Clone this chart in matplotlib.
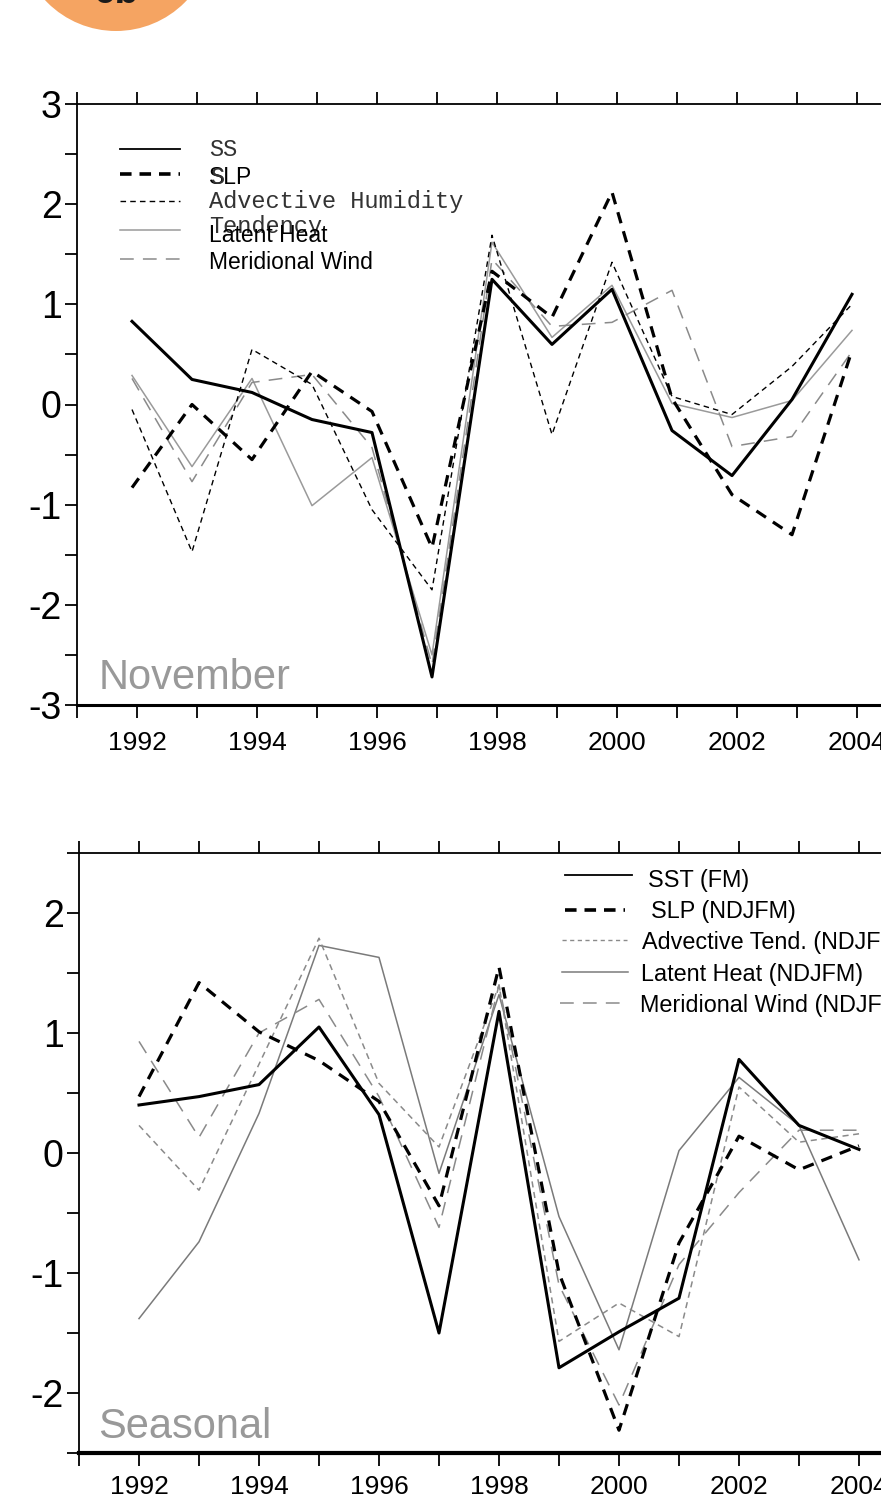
import matplotlib
matplotlib.use("Agg")
import matplotlib.pyplot as plt
from matplotlib.lines import Line2D
from matplotlib.patches import Circle
from matplotlib.ticker import MultipleLocator
import numpy as np

W, H = 881, 1498

# ---------------- data ----------------
years = list(range(1992, 2005))

# November panel (values plotted at November of previous year)
nov_ss = [0.83, 0.25, 0.12, -0.15, -0.28, -2.72, 1.25, 0.60, 1.15, -0.26, -0.71, 0.05, 1.10]
nov_slp = [-0.83, 0.00, -0.55, 0.33, -0.07, -1.43, 1.33, 0.87, 2.12, 0.06, -0.90, -1.30, 0.54]
nov_adv = [-0.05, -1.47, 0.55, 0.20, -1.05, -1.85, 1.69, -0.30, 1.42, 0.08, -0.10, 0.38, 1.00]
nov_lh = [0.29, -0.62, 0.26, -1.01, -0.53, -2.50, 1.62, 0.67, 1.19, 0.01, -0.13, 0.04, 0.74]
nov_mw = [0.26, -0.77, 0.22, 0.30, -0.43, -2.60, 1.45, 0.78, 0.82, 1.14, -0.42, -0.32, 0.53]

# Seasonal panel
sea_sst = [0.40, 0.47, 0.57, 1.05, 0.32, -1.50, 1.18, -1.79, -1.49, -1.21, 0.78, 0.23, 0.03]
sea_slp = [0.47, 1.42, 1.01, 0.77, 0.43, -0.44, 1.55, -1.00, -2.31, -0.75, 0.14, -0.14, 0.06]
sea_adv = [0.23, -0.31, 0.74, 1.79, 0.58, 0.05, 1.40, -1.57, -1.25, -1.53, 0.55, 0.09, 0.16]
sea_lh = [-1.38, -0.74, 0.33, 1.73, 1.63, -0.17, 1.32, -0.53, -1.64, 0.02, 0.63, 0.23, -0.89]
sea_mw = [0.93, 0.13, 1.00, 1.28, 0.47, -0.62, 1.40, -1.10, -2.10, -0.93, -0.33, 0.19, 0.19]

nov_labels = ["SS", "SLP", "Advective Humidity", "Tendency", "Latent Heat", "Meridional Wind"]
sea_labels = ["SST (FM)", "SLP (NDJFM)", "Advective Tend. (NDJFM)",
              "Latent Heat (NDJFM)", "Meridional Wind (NDJFM)"]

SANS = "Liberation Sans"
MONO = "Liberation Mono"
plt.rcParams["font.family"] = [SANS, "DejaVu Sans"]
plt.rcParams["axes.unicode_minus"] = False

fig = plt.figure(figsize=(W / 100, H / 100), dpi=100)


def fx(px):
    return px / W


def fy(py):
    return 1 - py / H


# ---------------- badge ----------------
fig.patches.append(Circle((1.16, (H + 66) / 100), 0.97, transform=fig.dpi_scale_trans,
                          facecolor="#f5a462", edgecolor="none"))
fig.text(fx(116), fy(3), "6b", ha="center", va="baseline", fontsize=28,
         fontweight="bold", color="#1a1a1a")


def style_axes(ax, ylo, yhi, xpad):
    ax.set_ylim(ylo, yhi)
    ax.spines["right"].set_visible(False)
    for s in ("left", "top"):
        ax.spines[s].set_linewidth(1.3)
    ax.xaxis.set_major_locator(MultipleLocator(2))
    ax.xaxis.set_minor_locator(MultipleLocator(1))
    ax.yaxis.set_major_locator(MultipleLocator(1))
    ax.yaxis.set_minor_locator(MultipleLocator(0.5))
    ax.tick_params(axis="x", which="both", direction="out", top=True, bottom=True,
                   length=9, width=1.3, labelsize=19, pad=xpad)
    ax.tick_params(axis="y", which="both", direction="out", left=True, right=False,
                   length=9, width=1.3, labelsize=27, pad=2)
    ax.set_xticks([1992, 1994, 1996, 1998, 2000, 2002, 2004])
    ax.set_xticklabels(["1992", "1994", "1996", "1998", "2000", "2002", "2004"])


# ---------------- top panel ----------------
ax1 = fig.add_axes([fx(77), fy(705), (W - 77 + 60) / W, 601 / H])
x1 = np.array(years) - 1 + 11 / 12
ax1.set_xlim(1991, 1991 + (W - 77 + 60) / 60)
ax1.plot(x1, nov_lh, color="#9a9a9a", lw=1.1)
ax1.plot(x1, nov_mw, color="#8a8a8a", lw=1.1, dashes=(9, 6))
ax1.plot(x1, nov_adv, color="black", lw=1.0, dashes=(4, 3))
ax1.plot(x1, nov_slp, color="black", lw=2.3, dashes=(3.6, 2.6))
ax1.plot(x1, nov_ss, color="black", lw=2.2)
style_axes(ax1, -3, 3, 10)
ax1.spines["bottom"].set_linewidth(2.2)
ax1.text(0.025, 0.027, "November", transform=ax1.transAxes, fontsize=30,
         color="#999999", ha="left", va="baseline")

# legend (top)
leg1 = [
    (149, dict(color="black", lw=1.3)),
    (174, dict(color="black", lw=2.6, dashes=(3.2, 2.2))),
    (201, dict(color="black", lw=1.0, dashes=(4, 3))),
    (230, dict(color="#9a9a9a", lw=1.1)),
    (259, dict(color="#8a8a8a", lw=1.1, dashes=(9, 6))),
]
for yy, kw in leg1:
    fig.add_artist(Line2D([fx(120), fx(180)], [fy(yy), fy(yy)], transform=fig.transFigure, **kw))
fig.text(fx(209), fy(156), nov_labels[0], family=MONO, fontsize=17, color="#333333")
fig.text(fx(209), fy(184), nov_labels[1], fontsize=16.5, color="black")
fig.text(fx(210), fy(184), "S", family=MONO, fontsize=17, color="#333333")
fig.text(fx(209), fy(208), nov_labels[2], family=MONO, fontsize=17, color="#333333")
fig.text(fx(209), fy(233), nov_labels[3], family=MONO, fontsize=17, color="#333333")
fig.text(fx(209), fy(242), nov_labels[4], fontsize=16.5, color="black")
fig.text(fx(209), fy(269), nov_labels[5], fontsize=16.5, color="black")

# ---------------- bottom panel ----------------
ax2 = fig.add_axes([fx(79), fy(1453), (W - 79 + 60) / W, 600 / H])
x2 = np.array(years, dtype=float)
ax2.set_xlim(1991, 1991 + (W - 79 + 60) / 60)
ax2.plot(x2, sea_lh, color="#7a7a7a", lw=1.1)
ax2.plot(x2, sea_mw, color="#8a8a8a", lw=1.1, dashes=(9, 6))
ax2.plot(x2, sea_adv, color="#8a8a8a", lw=1.1, dashes=(4, 3))
ax2.plot(x2, sea_slp, color="black", lw=2.3, dashes=(3.6, 2.6))
ax2.plot(x2, sea_sst, color="black", lw=2.2)
style_axes(ax2, -2.5, 2.5, 7)
ax2.set_yticks([-2, -1, 0, 1, 2])
ax2.spines["bottom"].set_linewidth(3.0)
ax2.text(0.022, 0.025, "Seasonal", transform=ax2.transAxes, fontsize=30,
         color="#999999", ha="left", va="baseline")

leg2 = [
    (875, 565, 632, dict(color="black", lw=1.3)),
    (910, 565, 625, dict(color="black", lw=2.6, dashes=(3.2, 2.2))),
    (940, 562, 627, dict(color="#8a8a8a", lw=1.0, dashes=(3, 2.5))),
    (972, 562, 628, dict(color="#7a7a7a", lw=1.1)),
    (1003, 560, 620, dict(color="#8a8a8a", lw=1.1, dashes=(9, 6))),
]
for yy, xa, xb, kw in leg2:
    fig.add_artist(Line2D([fx(xa), fx(xb)], [fy(yy), fy(yy)], transform=fig.transFigure, **kw))
txt_pos = [(648, 887), (651, 918), (642, 949), (641, 981), (640, 1012)]
for (tx, ty), lab in zip(txt_pos, sea_labels):
    fig.text(fx(tx), fy(ty), lab, fontsize=16.8, color="black")

fig.savefig("out.png", dpi=100)
